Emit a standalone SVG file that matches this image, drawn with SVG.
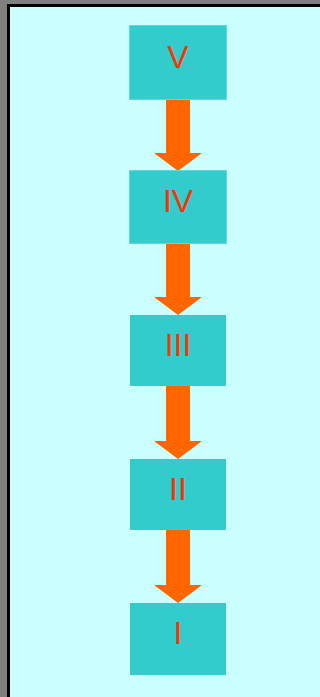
<svg xmlns="http://www.w3.org/2000/svg" width="320" height="697" viewBox="0 0 320 697">
  <style>
    .box rect { fill: #33CCCC; }
    .box rect.edged { stroke: #5CDADA; stroke-width: 1; }
    .box text { fill: #FF3300; font-family: "Liberation Sans", Arial, sans-serif; font-size: 32px; text-anchor: middle; }
    .arrow { fill: #FF6600; }
  </style>
  <defs>
    <!-- block arrows pointing down: shaft 24 wide, head 48 wide and 18 tall -->
    <path id="blockArrow" d="M-12 0 H12 V53 H24 L0 71 L-24 53 H-12 Z"/>
    <path id="blockArrowLong" d="M-12 0 H12 V55 H24 L0 73 L-24 55 H-12 Z"/>
  </defs>

  <!-- frame -->
  <rect x="0" y="0" width="320" height="697" fill="#808080"/>
  <rect x="7" y="4" width="320" height="700" fill="#000000"/>
  <rect x="10" y="7" width="320" height="700" fill="#CCFFFF"/>

  <g id="connectors">
    <use href="#blockArrow" class="arrow" x="178" y="100"/>
    <use href="#blockArrow" class="arrow" x="178" y="244"/>
    <use href="#blockArrowLong" class="arrow" x="178" y="386"/>
    <use href="#blockArrowLong" class="arrow" x="178" y="530"/>
  </g>

  <g id="node-V" class="box">
    <rect class="edged" x="129.5" y="25.5" width="97" height="74"/>
    <text x="178" y="68">V</text>
  </g>
  <g id="node-IV" class="box">
    <rect class="edged" x="129.5" y="170.5" width="97" height="73"/>
    <text x="178" y="212">IV</text>
  </g>
  <g id="node-III" class="box">
    <rect x="130" y="315" width="96" height="71"/>
    <text x="178" y="356">III</text>
  </g>
  <g id="node-II" class="box">
    <rect x="130" y="459" width="96" height="71"/>
    <text x="178" y="500">II</text>
  </g>
  <g id="node-I" class="box">
    <rect x="130" y="603" width="96" height="72"/>
    <text x="178" y="644">I</text>
  </g>
</svg>
